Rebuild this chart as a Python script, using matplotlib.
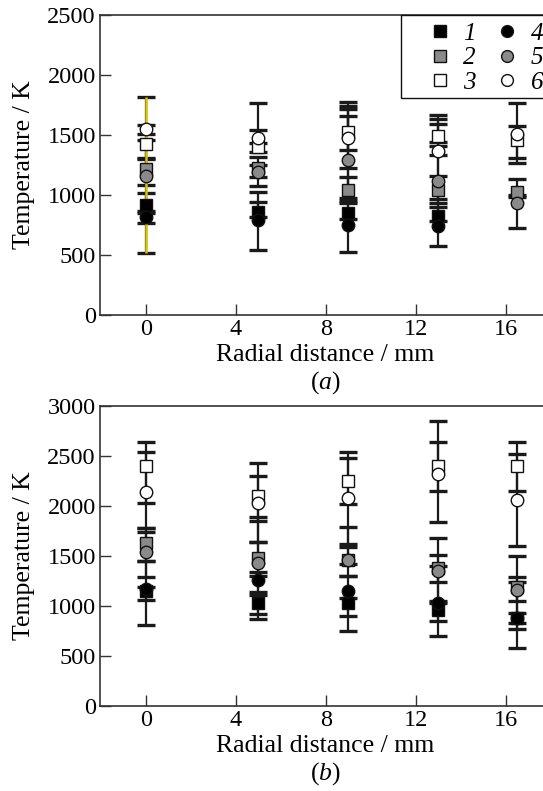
import numpy as np
import matplotlib
matplotlib.use("Agg")
import matplotlib.pyplot as plt
from matplotlib.lines import Line2D
from matplotlib.patches import Rectangle

plt.rcParams['font.family'] = ['Liberation Serif', 'DejaVu Serif']
plt.rcParams['mathtext.fontset'] = 'custom'
plt.rcParams['mathtext.rm'] = 'Liberation Serif'
plt.rcParams['mathtext.it'] = 'Liberation Serif:italic'

nan = np.nan
# Radial positions (mm)
x = [0, 5, 9, 13, 16.5]

# ---- Panel (a) ----
a1 = [917, 861, 847, 822, nan]
a1_lo = [47, 41, 47, 42, nan]
a1_hi = [97, 78, 84, 75, nan]
a2 = [1214, 1222, 1042, 1044, 1028]
a2_lo = [131, 144, 92, 111, 48]
a2_hi = [83, 97, 111, 112, 105]
a3 = [1425, 1403, 1528, 1489, 1458]
a3_lo = [120, 43, 153, 49, 147]
a3_hi = [35, 139, 189, 103, 120]
a4 = [814, 792, 750, 739, nan]
a4_lo = [44, 250, 222, 167, nan]
a4_hi = [36, 236, 1022, 925, nan]
a5 = [1158, 1194, 1292, 1114, 931]
a5_lo = [644, 44, 64, 145, 209]
a5_hi = [661, 56, 452, 522, 69]
a6 = [1547, 1478, 1478, 1369, 1506]
a6_lo = [37, 48, 506, 39, 242]
a6_hi = [33, 286, 183, 41, 258]

# ---- Panel (b) ----
b1 = [1150, 1027, 1033, 960, 877]
b1_lo = [90, 157, 130, 110, 50]
b1_hi = [40, 83, 47, 90, 50]
b2 = [1630, 1480, 1460, 1383, 1193]
b2_lo = [180, 143, 160, 140, 143]
b2_hi = [153, 157, 157, 127, 307]
b3 = [2400, 2100, 2250, 2400, 2400]
b3_lo = [617, 250, 233, 557, 247]
b3_hi = [143, 327, 227, 450, 237]
b4 = [1175, 1260, 1153, 1030, 880]
b4_lo = [365, 343, 400, 327, 113]
b4_hi = [275, 40, 147, 647, 363]
b5 = [1543, 1433, 1460, 1353, 1160]
b5_lo = [250, 290, 40, 326, 583]
b5_hi = [194, 460, 333, 47, 133]
b6 = [2143, 2035, 2083, 2320, 2060]
b6_lo = [116, 398, 490, 170, 460]
b6_hi = [500, 268, 460, 317, 457]

labels = ['1', '2', '3', '4', '5', '6']
markers = ['s', 's', 's', 'o', 'o', 'o']
faces = ['black', '#8a8a8a', 'white', 'black', '#8a8a8a', 'white']

panels = [
    dict(series=[(a1, a1_lo, a1_hi), (a2, a2_lo, a2_hi), (a3, a3_lo, a3_hi),
                 (a4, a4_lo, a4_hi), (a5, a5_lo, a5_hi), (a6, a6_lo, a6_hi)],
         ylim=(0, 2500), yticks=np.arange(0, 2501, 500), tag='a'),
    dict(series=[(b1, b1_lo, b1_hi), (b2, b2_lo, b2_hi), (b3, b3_lo, b3_hi),
                 (b4, b4_lo, b4_hi), (b5, b5_lo, b5_hi), (b6, b6_lo, b6_hi)],
         ylim=(0, 3000), yticks=np.arange(0, 3001, 500), tag='b'),
]

W, H = 543, 791
fig = plt.figure(figsize=(W / 100, H / 100), dpi=100)

ax_left = 100 / W
ax_w = 450 / W
ax_h = 300 / H
bottoms = [1 - 315 / H, 1 - 706 / H]

spine_c = '#333333'
for p, bot in zip(panels, bottoms):
    ax = fig.add_axes([ax_left, bot, ax_w, ax_h])
    for (y, lo, hi) in p['series']:
        y = np.array(y, float)
        err = np.array([lo, hi], float)
        ax.errorbar(x, y, yerr=err, fmt='none', ecolor='#1a1a1a',
                    elinewidth=1.6, capsize=6.5, capthick=2.4, zorder=2)
    # highlighted (yellow) bar at x=0 in panel (a), series 5
    if p['tag'] == 'a':
        y5, lo5, hi5 = p['series'][4]
        ax.vlines(x[0], y5[0] - lo5[0], y5[0] + hi5[0], color='#d6c400',
                  lw=1.8, zorder=3)
    for k, (y, lo, hi) in enumerate(p['series']):
        ax.plot(x, y, linestyle='none', marker=markers[k], markersize=9,
                markerfacecolor=faces[k], markeredgecolor='#111111',
                markeredgewidth=1.0, zorder=4)
    ax.set_xlim(-2.03, 17.97)
    ax.set_ylim(*p['ylim'])
    ax.set_xticks([0, 4, 8, 12, 16])
    ax.set_yticks(p['yticks'])
    ax.tick_params(direction='in', length=8, width=1.0, color=spine_c,
                   labelsize=17.5)
    ax.tick_params(axis='y', pad=3)
    ax.tick_params(axis='x', pad=3)
    ax.spines['right'].set_visible(False)
    for s in ['left', 'bottom', 'top']:
        ax.spines[s].set_color(spine_c)
        ax.spines[s].set_linewidth(1.2)
    ax.set_ylabel('Temperature / K', fontsize=18.5, labelpad=9)
    ax.set_xlabel('Radial distance / mm', fontsize=18.5, labelpad=3)
    ax.text(0.5, -0.225, r'$(\mathit{%s})$' % p['tag'], transform=ax.transAxes,
            ha='center', va='center', fontsize=18.5)
    if p['tag'] == 'a':
        handles = [Line2D([], [], linestyle='none', marker=markers[k],
                          markersize=8.5, markerfacecolor=faces[k],
                          markeredgecolor='#111111', markeredgewidth=1.0)
                   for k in range(6)]
        leg = fig.legend(handles, labels,
                         ncol=2, loc='upper left',
                         bbox_to_anchor=(428 / W, 1 - 22.5 / H),
                         frameon=False, borderpad=0, borderaxespad=0,
                         prop={'family': 'Liberation Serif', 'style': 'italic',
                               'size': 18},
                         handlelength=0.95, handletextpad=0.45,
                         columnspacing=0.8, labelspacing=0.08)
        fig.patches.append(Rectangle((400.7 / W, 1 - 98 / H), 160 / W, 83 / H,
                                     fill=False, edgecolor='#111111',
                                     linewidth=1.0, transform=fig.transFigure,
                                     figure=fig, zorder=5))

fig.savefig('out.png', dpi=100)
